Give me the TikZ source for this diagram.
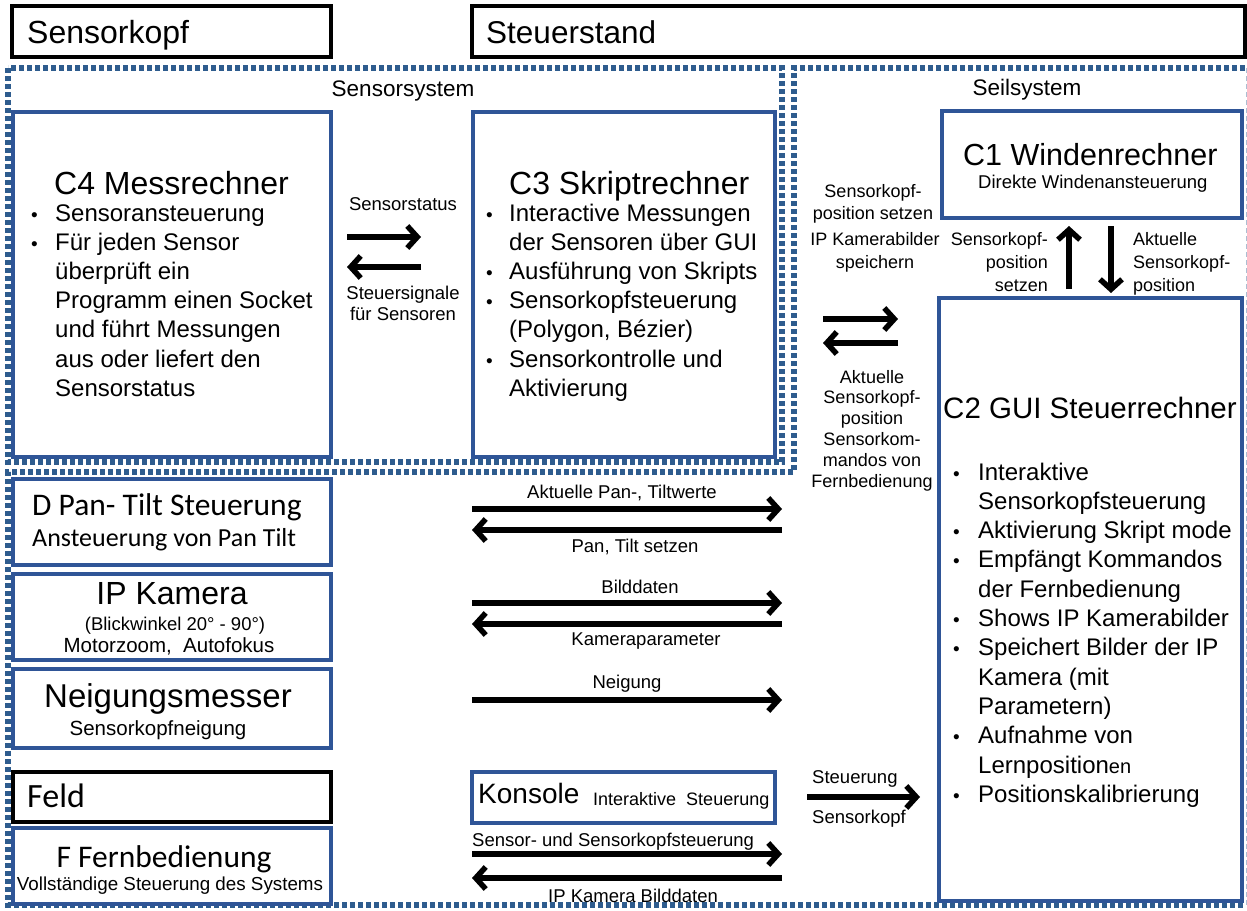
\documentclass[tikz,border=0pt]{standalone}
\usepackage{fontspec}
\setmainfont{Liberation Sans}
\newfontfamily\calib{Carlito}
\usetikzlibrary{arrows.meta}
\definecolor{BoxBlue}{HTML}{2F5597}
\definecolor{DotBlue}{HTML}{2E5C8E}
\newcommand{\fsz}[2]{\fontsize{#1}{#2}\selectfont}
\newcommand{\dotitem}{{\fontsize{19}{19}\selectfont\textbullet}}
\newcommand{\bullist}[2]{\begin{tabular}[t]{@{}p{#1}@{}l@{}}#2\end{tabular}}
\newcommand{\stack}[2]{\begin{tabular}[t]{@{}#1@{}}#2\end{tabular}}

\begin{document}
\begin{tikzpicture}[x=1pt, y=-1pt,
    headbox/.style={draw=black, line width=3.5pt, anchor=north west, inner sep=0pt, outer sep=0pt},
    bluebox/.style={draw=BoxBlue, line width=3.2pt, anchor=north west, inner sep=0pt, outer sep=0pt},
    dotframe/.style={draw=DotBlue, line width=5.5pt, dash pattern=on 5pt off 3pt},
    flow/.style={line width=5.5pt, -{Straight Barb[length=10pt, width=22pt]}},
    txt/.style={inner sep=0pt, anchor=base west},
    lbl/.style={inner sep=0pt, anchor=base, font=\fsz{18.5}{21}}]
  \useasboundingbox (0,0) rectangle (1247,910);

  % dotted frames
  \draw[dotframe] (8,68) rectangle (782,462);
  \draw[dotframe] (1245,68) -- (794,68) -- (794,472) -- (8,472) -- (8,905) -- (1245,905);
  \draw[draw=DotBlue!40, line width=1pt, dash pattern=on 5pt off 3pt] (1246,68) -- (1246,905);
  \node[lbl, font=\fsz{22.5}{26}] (sensys) at (403,96) {Sensorsystem};
  \node[lbl, font=\fsz{22.5}{26}] (seilsys) at (1027,95) {Seilsystem};

  % headers
  \node[headbox, minimum width=319pt, minimum height=51pt] (kopf) at (12,6) {};
  \node[txt, font=\fsz{32}{36}] (kopf-t) at (27,43) {Sensorkopf};
  \node[headbox, minimum width=773pt, minimum height=51pt] (stand) at (472,6) {};
  \node[txt, font=\fsz{31.5}{36}] (stand-t) at (486,43) {Steuerstand};
  \node[headbox, minimum width=318pt, minimum height=50pt] (feld) at (13,772) {};
  \node[txt, font=\calib\fsz{34}{38}] (feld-t) at (27,807) {Feld};

  % C4 Messrechner
  \node[bluebox, minimum width=318pt, minimum height=345pt] (c4) at (13,112) {};
  \node[txt, font=\fsz{32}{36}] (c4-t) at (54,194) {C4 Messrechner};
  \node[txt, font=\fsz{24}{29.2}] (c4-l) at (31,221) {\bullist{24pt}{
    \dotitem & Sensoransteuerung\\
    \dotitem & Für jeden Sensor\\
    & überprüft ein\\
    & Programm einen Socket\\
    & und führt Messungen\\
    & aus oder liefert den\\
    & Sensorstatus}};

  % C3 Skriptrechner
  \node[bluebox, minimum width=302pt, minimum height=345pt] (c3) at (473,112) {};
  \node[txt, font=\fsz{32}{36}] (c3-t) at (509,194) {C3 Skriptrechner};
  \node[txt, font=\fsz{24}{29.2}] (c3-l) at (486,221) {\bullist{23pt}{
    \dotitem & Interactive Messungen\\
    & der Sensoren über GUI\\
    \dotitem & Ausführung von Skripts\\
    \dotitem & Sensorkopfsteuerung\\
    & (Polygon, Bézier)\\
    \dotitem & Sensorkontrolle und\\
    & Aktivierung}};

  % C1 Windenrechner
  \node[bluebox, minimum width=300pt, minimum height=107pt] (c1) at (942,111) {};
  \node[txt, font=\fsz{30.5}{34}] (c1-t) at (963,165) {C1 Windenrechner};
  \node[txt, font=\fsz{18.5}{21}] (c1-s) at (978,188) {Direkte Windenansteuerung};

  % C2 GUI Steuerrechner
  \node[bluebox, minimum width=303pt, minimum height=603pt] (c2) at (939,298) {};
  \node[txt, font=\fsz{29.5}{34}] (c2-t) at (943,418) {C2 GUI Steuerrechner};
  \node[txt, font=\fsz{24}{29.3}] (c2-l) at (953,480) {\bullist{25pt}{
    \dotitem & Interaktive\\
    & Sensorkopfsteuerung\\
    \dotitem & Aktivierung Skript mode\\
    \dotitem & Empfängt Kommandos\\
    & der Fernbedienung\\
    \dotitem & Shows IP Kamerabilder\\
    \dotitem & Speichert Bilder der IP\\
    & Kamera (mit\\
    & Parametern)\\
    \dotitem & Aufnahme von\\
    & Lernposition{\fontsize{20}{20}\selectfont en}\\
    \dotitem & Positionskalibrierung}};

  % Sensorkopf components
  \node[bluebox, minimum width=318pt, minimum height=86pt] (dpt) at (13,479) {};
  \node[txt, font=\calib\fsz{31.5}{36}] (dpt-t) at (32,515) {D Pan- Tilt Steuerung};
  \node[txt, font=\calib\fsz{26}{30}] (dpt-s) at (32,546) {Ansteuerung von Pan Tilt};
  \node[bluebox, minimum width=318pt, minimum height=86pt] (ipk) at (13,574) {};
  \node[lbl, font=\fsz{32}{36}] (ipk-t) at (172,604) {IP Kamera};
  \node[lbl, font=\fsz{18.5}{21}] (ipk-s) at (175,630) {(Blickwinkel 20° - 90°)};
  \node[lbl, font=\fsz{20.5}{24}] (ipk-z) at (169,652) {Motorzoom,~ Autofokus};
  \node[bluebox, minimum width=318pt, minimum height=79pt] (neig) at (13,669) {};
  \node[lbl, font=\fsz{33}{36}] (neig-t) at (168,707) {Neigungsmesser};
  \node[lbl, font=\fsz{20.5}{24}] (neig-s) at (158,735) {Sensorkopfneigung};
  \node[bluebox, minimum width=318pt, minimum height=76pt] (fern) at (13,828) {};
  \node[lbl, font=\calib\fsz{31.5}{36}] (fern-t) at (164,867) {F Fernbedienung};
  \node[lbl, font=\fsz{18.8}{22}] (fern-s) at (170,890) {Vollständige Steuerung des Systems};

  % Konsole
  \node[bluebox, minimum width=303pt, minimum height=51pt] (kons) at (472,772) {};
  \node[txt, font=\fsz{28}{32}] (kons-t) at (478,803) {Konsole};
  \node[txt, font=\fsz{18}{21}] (kons-s) at (593,805) {Interaktive~ Steuerung};

  % connector end points
  \coordinate (ss-a) at (347,237);  \coordinate (ss-b) at (421,237);
  \coordinate (ss-c) at (421,267);  \coordinate (ss-d) at (347,267);
  \coordinate (cc-a) at (823,319);  \coordinate (cc-b) at (898,319);
  \coordinate (cc-c) at (898,343);  \coordinate (cc-d) at (823,343);
  \coordinate (up-a) at (1069,289); \coordinate (up-b) at (1069,226);
  \coordinate (dn-a) at (1111,226); \coordinate (dn-b) at (1111,293);
  \coordinate (pt-a) at (472,509);  \coordinate (pt-b) at (782,509);
  \coordinate (pt-c) at (782,530);  \coordinate (pt-d) at (472,530);
  \coordinate (bd-a) at (472,603);  \coordinate (bd-b) at (782,603);
  \coordinate (bd-c) at (782,624);  \coordinate (bd-d) at (472,624);
  \coordinate (ng-a) at (472,700);  \coordinate (ng-b) at (782,700);
  \coordinate (ks-a) at (807,797);  \coordinate (ks-b) at (920,797);
  \coordinate (fb-a) at (472,854);  \coordinate (fb-b) at (782,854);
  \coordinate (fb-c) at (782,878);  \coordinate (fb-d) at (472,878);

  % arrows
  \draw[flow] (ss-a) -- (ss-b);
  \draw[flow] (ss-c) -- (ss-d);
  \draw[flow] (cc-a) -- (cc-b);
  \draw[flow] (cc-c) -- (cc-d);
  \draw[flow] (up-a) -- (up-b);
  \draw[flow] (dn-a) -- (dn-b);
  \draw[flow] (pt-a) -- (pt-b);
  \draw[flow] (pt-c) -- (pt-d);
  \draw[flow] (bd-a) -- (bd-b);
  \draw[flow] (bd-c) -- (bd-d);
  \draw[flow] (ng-a) -- (ng-b);
  \draw[flow] (ks-a) -- (ks-b);
  \draw[flow] (fb-a) -- (fb-b);
  \draw[flow] (fb-c) -- (fb-d);

  % arrow labels
  \node[lbl] (ss-t) at (403,210) {Sensorstatus};
  \node[lbl] (ss-s) at (403,299) {\stack{c}{Steuersignale\\für Sensoren}};
  \node[lbl, font=\fsz{18}{22.5}] (cc-t1) at (873,197) {\stack{c}{Sensorkopf-\\position setzen}};
  \node[lbl, font=\fsz{18}{23}] (cc-t2) at (875,245) {\stack{c}{IP Kamerabilder\\speichern}};
  \node[lbl, font=\fsz{18}{20.8}] (cc-s) at (872,383) {\stack{c}{Aktuelle\\Sensorkopf-\\position\\Sensorkom-\\mandos von\\Fernbedienung}};
  \node[lbl, font=\fsz{18}{23}, anchor=base east] (up-t) at (1048,245) {\stack{r}{Sensorkopf-\\position\\setzen}};
  \node[lbl, font=\fsz{18}{23}, anchor=base west] (dn-t) at (1133,245) {\stack{l}{Aktuelle\\Sensorkopf-\\position}};
  \node[lbl] (pt-t) at (622,498) {Aktuelle Pan-, Tiltwerte};
  \node[lbl] (pt-s) at (635,552) {Pan, Tilt setzen};
  \node[lbl] (bd-t) at (640,593) {Bilddaten};
  \node[lbl] (bd-s) at (646,645) {Kameraparameter};
  \node[lbl] (ng-t) at (627,688) {Neigung};
  \node[lbl, anchor=base west] (ks-t) at (812,783) {Steuerung};
  \node[lbl, anchor=base west] (ks-s) at (812,823) {Sensorkopf};
  \node[lbl, anchor=base west] (fb-t) at (472,846) {Sensor- und Sensorkopfsteuerung};
  \node[lbl, anchor=base west] (fb-s) at (548,902) {IP Kamera Bilddaten};
\end{tikzpicture}
\end{document}
